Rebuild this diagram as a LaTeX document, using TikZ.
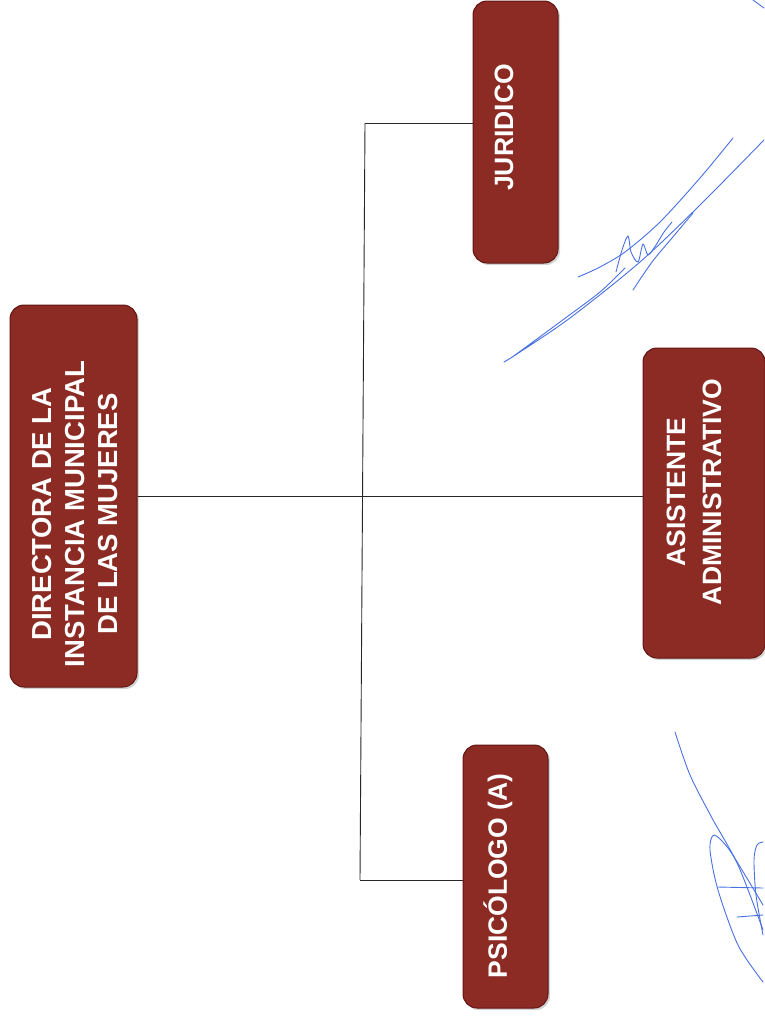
\documentclass[tikz,border=0pt]{standalone}
\usepackage{fontspec}
\setmainfont{Liberation Sans}
\usetikzlibrary{shadows}
\definecolor{boxred}{RGB}{140,42,36}
\definecolor{boxedge}{RGB}{98,22,20}
\definecolor{ink}{RGB}{72,112,228}
\begin{document}
\begin{tikzpicture}[x=1pt,y=-1pt,
  orgbox/.style={draw=boxedge, line width=1pt, fill=boxred, rounded corners=14pt,
    inner sep=0pt, drop shadow={shadow xshift=2pt,shadow yshift=-2pt,opacity=0.35}},
  orgtext/.style={text=white, inner sep=0pt, rotate=90, align=center, font=\bfseries\fontsize{26.5}{34}\selectfont},
  link/.style={line width=0.9pt, draw=black!85},
  sig/.style={draw=ink, line width=0.9pt, line cap=round, line join=round}]
\useasboundingbox (0,0) rectangle (764,1017);
% boxes
\node[orgbox, minimum width=127pt, minimum height=382pt] (dir) at (73.5,496) {};
\node[orgbox, minimum width=85pt, minimum height=262pt] (jur) at (515.5,132) {};
\node[orgbox, minimum width=122pt, minimum height=310pt] (asis) at (704,503) {};
\node[orgbox, minimum width=85pt, minimum height=263pt] (psi) at (505.5,876.5) {};
% texts
\node[orgtext, font=\bfseries\fontsize{27.5}{33}\selectfont] (dirt) at (75,514) {DIRECTORA DE LA\\INSTANCIA MUNICIPAL\\DE LAS MUJERES};
\node[orgtext] (jurt) at (504,127.5) {JURIDICO};
\node[orgtext, font=\bfseries\fontsize{26.5}{36}\selectfont] (asist) at (694,492) {ASISTENTE\\ADMINISTRATIVO};
\node[orgtext] (psit) at (498,876) {PSICÓLOGO (A)};
% connectors
\coordinate (vtop) at (365,123);
\coordinate (vbot) at (360,880);
\draw[link] (dir.east) -- (dir.east -| asis.west);
\draw[link] (vtop) -- (vbot);
\draw[link] (vtop) -- (vtop -| jur.west);
\draw[link] (vbot) -- (vbot -| psi.west);
% signatures
\draw[sig] plot[smooth] coordinates {(764,140) (700,205) (640,262) (570,318) (520,352) (504,362) (515,355) (560,322) (600,292) (625,268)};
\draw[sig] plot[smooth] coordinates {(733,138) (700,178) (660,222) (625,252) (598,268) (578,277)};
\draw[sig] plot[smooth] coordinates {(693,213) (672,238) (652,262) (633,290)};
\draw[sig] plot[smooth] coordinates {(616,272) (622,250) (628,236) (631,252) (638,262) (643,244) (648,255) (656,245) (664,232) (672,222)};
\draw[sig] (753,0) -- (764,8);
\draw[sig] plot[smooth] coordinates {(675,732) (690,775) (712,818) (738,865) (763,930)};
\draw[sig] plot[smooth] coordinates {(763,982) (738,945) (718,890) (710,850) (714,835) (728,848) (745,875) (763,905)};
\draw[sig] plot[smooth] coordinates {(763,935) (756,895) (754,860) (757,845) (763,842)};
\draw[sig] (718,887) -- (763,888);
\draw[sig] (737,917) -- (763,915);
\end{tikzpicture}
\end{document}
